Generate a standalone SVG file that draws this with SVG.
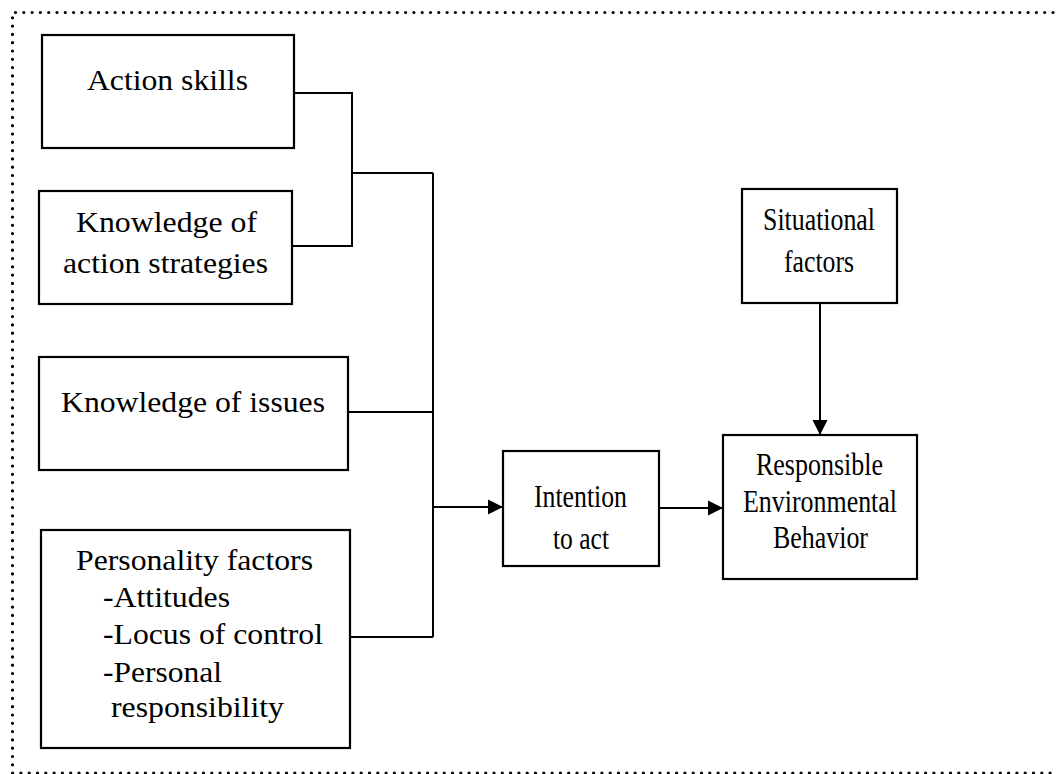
<svg xmlns="http://www.w3.org/2000/svg" width="1057" height="774" viewBox="0 0 1057 774">
<style>
.box{fill:#fff;stroke:#000;stroke-width:2.2}
.c{stroke:#000;stroke-width:2;fill:none}
.frame{stroke:#000;stroke-width:3.2;fill:none;stroke-linecap:round;stroke-dasharray:0 8.3}
</style>
<defs>
<marker id="ah" markerUnits="userSpaceOnUse" markerWidth="16" markerHeight="16" viewBox="0 0 16 16" refX="15" refY="8" orient="auto">
<path d="M0,0.5 L15,8 L0,15.5 Z" fill="#000"/>
</marker>
</defs>
<g id="frame">
<path class="frame" d="M1053,12.5 L12.5,12.5 L12.5,773 L1053,773"/>
</g>
<g id="connectors">
<path class="c" d="M294,93 H352 V246 H292"/>
<path class="c" d="M352,173 H433"/>
<path class="c" d="M433,173 V637"/>
<path class="c" d="M348,412 H433"/>
<path class="c" d="M350,637 H433"/>
<path class="c" d="M433,507 H503" marker-end="url(#ah)"/>
<path class="c" d="M659,508 H723" marker-end="url(#ah)"/>
<path class="c" d="M820,303 V435" marker-end="url(#ah)"/>
</g>
<g font-family="Liberation Serif, Times New Roman, serif" font-size="30" fill="#000">
<g id="action-skills">
<rect class="box" x="42" y="35" width="252" height="113"/>
<text x="87" y="90" textLength="161" lengthAdjust="spacingAndGlyphs">Action skills</text>
</g>
<g id="knowledge-action-strategies">
<rect class="box" x="39" y="191" width="253" height="113"/>
<text x="76" y="232" textLength="181" lengthAdjust="spacingAndGlyphs">Knowledge of</text>
<text x="63" y="273" textLength="205" lengthAdjust="spacingAndGlyphs">action strategies</text>
</g>
<g id="knowledge-issues">
<rect class="box" x="39" y="357" width="309" height="113"/>
<text x="61" y="412" textLength="264" lengthAdjust="spacingAndGlyphs">Knowledge of issues</text>
</g>
<g id="personality-factors">
<rect class="box" x="41" y="530" width="309" height="218"/>
<text x="76" y="570" textLength="237" lengthAdjust="spacingAndGlyphs">Personality factors</text>
<text x="103" y="607" textLength="127" lengthAdjust="spacingAndGlyphs">-Attitudes</text>
<text x="103" y="644" textLength="220" lengthAdjust="spacingAndGlyphs">-Locus of control</text>
<text x="103" y="682" textLength="119" lengthAdjust="spacingAndGlyphs">-Personal</text>
<text x="111" y="717" textLength="173" lengthAdjust="spacingAndGlyphs">responsibility</text>
</g>
<g id="intention" font-size="32">
<rect class="box" x="503" y="451" width="156" height="115"/>
<text x="534" y="507" textLength="93" lengthAdjust="spacingAndGlyphs">Intention</text>
<text x="553" y="549" textLength="56" lengthAdjust="spacingAndGlyphs">to act</text>
</g>
<g id="situational-factors" font-size="32">
<rect class="box" x="742" y="189" width="155" height="114"/>
<text x="763" y="230" textLength="112" lengthAdjust="spacingAndGlyphs">Situational</text>
<text x="784" y="272" textLength="70" lengthAdjust="spacingAndGlyphs">factors</text>
</g>
<g id="responsible-behavior" font-size="32">
<rect class="box" x="723" y="435" width="194" height="144"/>
<text x="756" y="475" textLength="127" lengthAdjust="spacingAndGlyphs">Responsible</text>
<text x="743" y="512" textLength="154" lengthAdjust="spacingAndGlyphs">Environmental</text>
<text x="773" y="548" textLength="95" lengthAdjust="spacingAndGlyphs">Behavior</text>
</g>
</g>
</svg>
